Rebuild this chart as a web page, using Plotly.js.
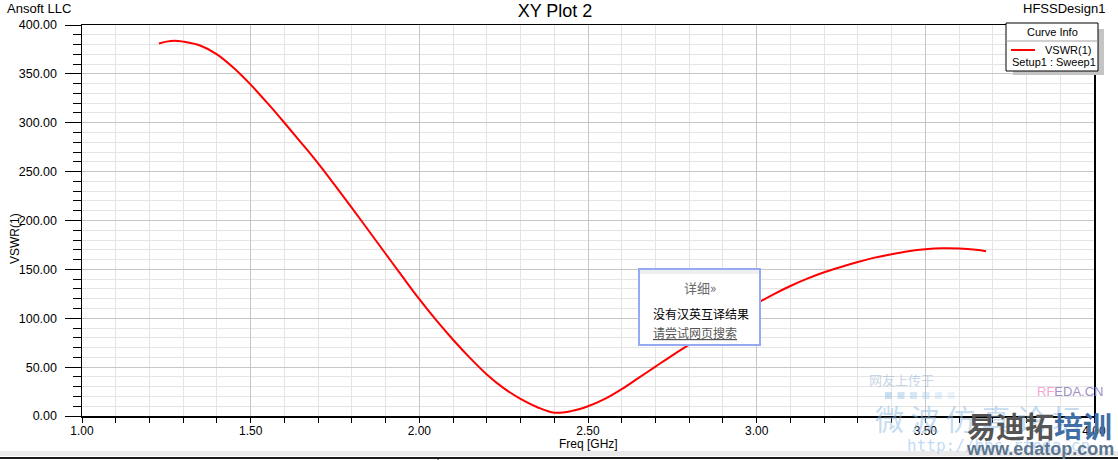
<!DOCTYPE html>
<html>
<head>
<meta charset="utf-8">
<script src="https://cdn.plot.ly/plotly-3.0.1.min.js"></script>
<style>html,body{margin:0;padding:0;background:#fff;}#chart{width:1118px;height:460px;}</style>
</head>
<body>
<div id="chart"></div>
<script>
// ---- data ----
const freqGHz = [1.228, 1.25, 1.275, 1.3, 1.35, 1.4, 1.45, 1.5, 1.55, 1.6, 1.65, 1.7, 1.75, 1.8, 1.85, 1.9, 1.95, 2.0,
  2.05, 2.1, 2.15, 2.2, 2.25, 2.3, 2.35, 2.4, 2.45, 2.5, 2.55, 2.6, 2.65, 2.7, 2.75, 2.8, 2.85, 2.9, 2.95, 3.0,
  3.05, 3.1, 3.15, 3.2, 3.25, 3.3, 3.35, 3.4, 3.45, 3.5, 3.55, 3.6, 3.65, 3.68];
const vswr = [381, 383, 384, 383, 379, 370, 356, 339, 320, 300, 279.5, 258.5, 236, 213, 189.5, 166, 142.5, 119.5,
  98, 78, 59.5, 42.5, 28.5, 17.5, 9, 3.4, 5, 10, 17.5, 27.5, 39, 50.5, 62, 73, 84, 95, 105, 115,
  124.5, 133, 140.5, 147, 152.5, 157.5, 162, 165.5, 168.5, 170.5, 171.5, 171.3, 170, 168.5];
const traceName = 'VSWR(1)';
const setupLabel = 'Setup1 : Sweep1';
const legendTitle = 'Curve Info';
const plotTitle = 'XY Plot 2';
const xTitle = 'Freq [GHz]';
const yTitle = 'VSWR(1)';
const companyLabel = 'Ansoft LLC';
const designLabel = 'HFSSDesign1';
const popupLines = ['详细»', '没有汉英互译结果', '请尝试网页搜索'];

// ---- geometry helpers (pixel -> paper) ----
const W = 1118, H = 460, L = 82, R = 1094, T = 25, B = 416;
const fx = p => (p - L) / (R - L);
const fy = p => (B - p) / (B - T);
const FONT = 'Liberation Sans, Arial, sans-serif';
const CJK = 'Noto Sans CJK SC, sans-serif';

const trace = {
  x: freqGHz, y: vswr, type: 'scatter', mode: 'lines', name: traceName,
  line: {color: '#ff0000', width: 2, shape: 'spline', smoothing: 1},
  showlegend: false, hoverinfo: 'x+y'
};

function rect(x0, y0, x1, y1, fill, lineColor, lw) {
  return {type: 'rect', xref: 'paper', yref: 'paper', x0: fx(x0), x1: fx(x1), y0: fy(y1), y1: fy(y0),
    fillcolor: fill, line: {color: lineColor || fill, width: lw === undefined ? 0 : lw}, layer: 'above'};
}
function seg(x0, y0, x1, y1, color, lw) {
  return {type: 'line', xref: 'paper', yref: 'paper', x0: fx(x0), x1: fx(x1), y0: fy(y0), y1: fy(y1),
    line: {color: color, width: lw}, layer: 'above'};
}
function txt(x, y, text, size, color, xanchor, family, extra) {
  return Object.assign({xref: 'paper', yref: 'paper', x: fx(x), y: fy(y), text: text, showarrow: false,
    xanchor: xanchor || 'center', yanchor: 'middle',
    font: {family: family || FONT, size: size, color: color || '#000'}}, extra || {});
}

const shapes = [
  // legend box with shadow
  rect(1013, 29, 1104, 75, '#c4c4c4'),
  rect(1006, 23, 1098, 71, '#ffffff', '#000000', 1),
  seg(1006, 41, 1098, 41, '#a0a0a0', 1),
  seg(1011, 50, 1035, 50, '#ff0000', 2),
  // translation popup
  rect(639, 269, 760, 345, '#ffffff', '#95aaf2', 2),
  rect(640, 270, 759, 274, '#efefef'),
  // window chrome at the bottom
  rect(0, 451, 1118, 456, '#e9e9e9'),
  seg(0, 458, 1118, 458, '#1a1a1a', 2),
  seg(438, 458, 438, 460, '#1a1a1a', 1)
];
// watermark squares
for (let i = 0; i < 6; i++) {
  shapes.push(Object.assign(rect(885 + i * 12.5, 392, 892 + i * 12.5, 399, '#9cc7ea'), {opacity: 0.55 - i * 0.07}));
}

const annotations = [
  txt(5, 9, companyLabel, 13, '#000', 'left'),
  txt(1107, 9, designLabel, 13, '#000', 'right'),
  txt(1052, 32, legendTitle, 11, '#000', 'center'),
  txt(1043, 50, traceName, 11, '#000', 'left'),
  txt(1010, 62, setupLabel, 11, '#000', 'left'),
  // axis titles
  txt(588, 444, xTitle, 12, '#000', 'center'),
  txt(15, 239, yTitle, 12, '#000', 'center', FONT, {textangle: -90}),
  // popup
  txt(700, 287, popupLines[0], 13, '#6a6a6a', 'center', CJK),
  txt(651, 313, popupLines[1], 12, '#000', 'left', CJK),
  txt(651, 332, '<u>' + popupLines[2] + '</u>', 12, '#555', 'left', CJK),
  // watermark
  txt(867, 379, '网友上传于', 13, 'rgba(150,180,210,0.55)', 'left', CJK),
  txt(1035, 391, '<span style="color:#f3a6d6">RF</span><span style="color:#a28fc4">EDA.CN</span>', 13, '#a28fc4', 'left', FONT),
  txt(873, 418, '微 波 仿 真 论 坛', 29, 'rgba(140,185,225,0.5)', 'left', CJK),
  txt(905, 445, 'http://bbs.rfeda.cn', 16, 'rgba(150,195,235,0.6)', 'left', 'DejaVu Sans Mono, monospace'),
  txt(965, 425, '<span style="color:#555555">易迪拓</span><span style="color:#3f6fa5">培训</span>', 29, '#555', 'left', CJK,
    {font: {family: CJK, size: 29, color: '#555', weight: 'bold'}}),
  txt(964, 449, 'www.edatop.com', 18, '#5d7690', 'left', FONT,
    {font: {family: FONT, size: 18, color: '#5d7690', weight: 'bold'}})
];

const layout = {
  width: W, height: H,
  margin: {l: L, r: W - R, t: T, b: H - B, pad: 0},
  paper_bgcolor: '#ffffff', plot_bgcolor: '#ffffff',
  font: {family: FONT, size: 12, color: '#000'},
  title: {text: plotTitle, xref: 'container', yref: 'container', x: 555 / W, y: 1 - 11 / H,
    xanchor: 'center', yanchor: 'middle', font: {family: FONT, size: 18, color: '#000'}},
  showlegend: false,
  xaxis: {
    range: [1, 4], dtick: 0.5, tick0: 1, tickformat: '.2f', ticks: 'outside', ticklen: 5, tickwidth: 1,
    tickcolor: '#000', showline: true, linecolor: '#000', linewidth: 1.5, mirror: true,
    showgrid: true, gridcolor: '#c6c6c6', gridwidth: 1, zeroline: false,
    tickfont: {family: FONT, size: 12, color: '#000'}, ticklabelstandoff: -2,
    minor: {dtick: 0.1, showgrid: true, gridcolor: '#e4e4e4', gridwidth: 1, ticks: 'outside', ticklen: 5, tickcolor: '#000'},
    automargin: false, fixedrange: true
  },
  yaxis: {
    range: [0, 400], dtick: 50, tick0: 0, tickformat: '.2f', ticks: 'outside', ticklen: 16, tickwidth: 1,
    tickcolor: '#000', showline: true, linecolor: '#000', linewidth: 1.5, mirror: true,
    showgrid: true, gridcolor: '#c6c6c6', gridwidth: 1, zeroline: false,
    tickfont: {family: FONT, size: 12.5, color: '#000'}, ticklabelstandoff: 5,
    minor: {dtick: 10, showgrid: true, gridcolor: '#e4e4e4', gridwidth: 1, ticks: 'outside', ticklen: 8, tickcolor: '#000'},
    automargin: false, fixedrange: true
  },
  shapes: shapes,
  annotations: annotations
};

Plotly.newPlot('chart', [trace], layout, {displayModeBar: false, staticPlot: true});
</script>
</body>
</html>
